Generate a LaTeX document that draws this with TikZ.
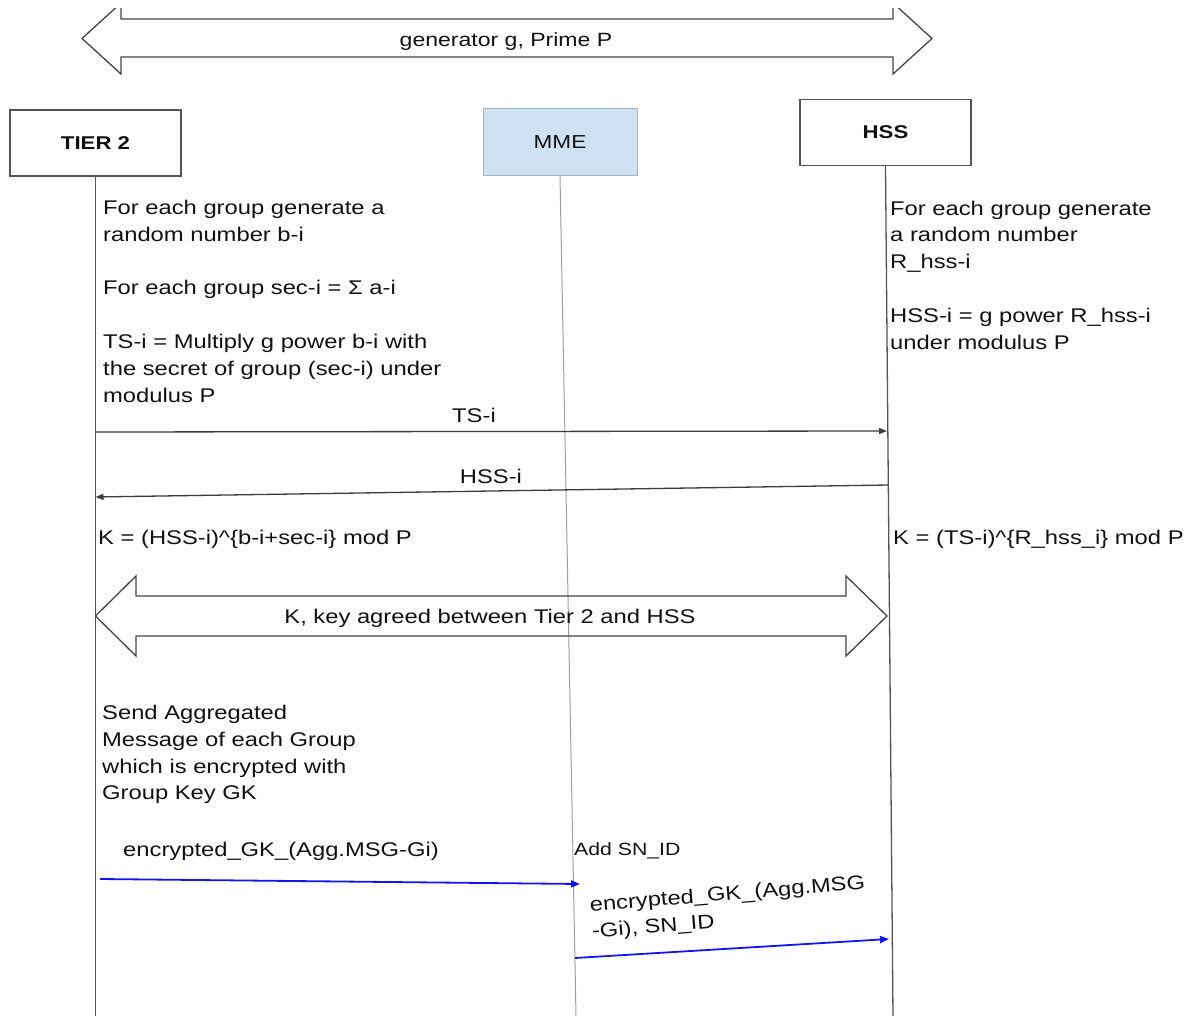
\documentclass[tikz,border=0pt]{standalone}
\usepackage{fontspec}
\setmainfont{Liberation Sans}[FakeStretch=1.2]
\usetikzlibrary{arrows.meta,calc}
\definecolor{ln}{HTML}{555555}
\definecolor{mmefill}{HTML}{CFE2F3}
\definecolor{mmeedge}{HTML}{A9B4BF}
\definecolor{txt}{HTML}{111111}
\definecolor{msgblue}{HTML}{1414F0}
\begin{document}
\begin{tikzpicture}[x=1pt,y=-1pt,
  every node/.style={text=txt,font=\fontsize{19.8}{26.8}\selectfont},
  actor/.style={draw=ln,line width=1.5pt,fill=white,minimum width=171pt,minimum height=66pt,inner sep=0pt,font=\bfseries\fontsize{18.5}{22}\selectfont},
  mmebox/.style={draw=mmeedge,line width=1pt,fill=mmefill,minimum width=154pt,minimum height=67pt,inner sep=0pt,font=\fontsize{18.8}{22}\selectfont},
  lifeline/.style={draw=ln,line width=1.3pt},
  mmeline/.style={draw=gray!75,line width=1pt},
  dblarrow/.style={draw=ln!80!black,line width=1.3pt,line join=miter},
  note/.style={anchor=north west,align=left,inner sep=0pt},
  msglabel/.style={anchor=base,inner sep=0pt},
  blackmsg/.style={draw=ln!70!black,line width=1.3pt,-{Triangle[length=8pt,width=6pt]}},
  bluemsg/.style={draw=msgblue,line width=1.8pt,-{Triangle[length=9pt,width=7pt]}}
]
\useasboundingbox (0,0) rectangle (1195,1016);

% actors
\node[actor] (t2) at (95.5,143) {TIER 2};
\node[mmebox] (mme) at (560,142.5) {MME};
\node[actor] (hss) at (885.5,132.5) {HSS};

% lifeline ends
\coordinate (t2b) at (95.5,1016);
\coordinate (mmeb) at (576,1016);
\coordinate (hssb) at (893,1016);
\draw[lifeline] (t2.south) -- (t2b);
\draw[mmeline] (mme.south) -- (mmeb);
\draw[lifeline] (hss.south) -- (hssb);

% top double arrow
\begin{scope}
\clip (0,9) rectangle (1195,1016);
\draw[dblarrow] (82,38.5) -- (121,3) -- (121,19) -- (893,19) -- (893,3) -- (932,38.5)
  -- (893,74) -- (893,57) -- (121,57) -- (121,74) -- cycle;
\end{scope}
\node[msglabel,font=\fontsize{19.2}{24}\selectfont] (gen) at (506,47) {generator g, Prime P};

% notes
\node[note] (lnote) at (103,200) {For each group generate a\\random number b-i\\[26.8pt]For each group sec-i = Σ a-i\\[26.8pt]TS-i = Multiply g power b-i with\\the secret of group (sec-i) under\\modulus P};
\node[note] (rnote) at (890,200.5) {For each group generate\\a random number\\R\_hss-i\\[26.8pt]HSS-i = g power R\_hss-i\\under modulus P};

% TS-i and HSS-i
\coordinate (tsA) at (95.5,432);
\coordinate (tsB) at (887,431);
\draw[blackmsg] (tsA) -- (tsB);
\node[msglabel] (tslab) at (474,423) {TS-i};
\coordinate (hsA) at (888.5,485);
\coordinate (hsB) at (95.5,497);
\draw[blackmsg] (hsA) -- (hsB);
\node[msglabel] (hslab) at (491,483) {HSS-i};

% key computations
\node[anchor=base west,inner sep=0pt] (kleft) at (98,544.5) {K = (HSS-i)\textasciicircum\{b-i+sec-i\} mod P};
\node[anchor=base west,inner sep=0pt] (kright) at (893,544.5) {K = (TS-i)\textasciicircum\{R\_hss\_i\} mod P};

% key agreed double arrow
\draw[dblarrow] (95.5,616) -- (136,576) -- (136,596) -- (846,596) -- (846,576) -- (887,616)
  -- (846,656) -- (846,636) -- (136,636) -- (136,656) -- cycle;
\node[msglabel] (klab) at (490,623) {K, key agreed between Tier 2 and HSS};

% aggregated message
\node[note] (snote) at (102,705) {Send Aggregated\\Message of each Group\\which is encrypted with\\Group Key GK};
\node[anchor=base west,inner sep=0pt] (enc1) at (123,856) {encrypted\_GK\_(Agg.MSG-Gi)};
\node[anchor=base west,inner sep=0pt,font=\fontsize{17.7}{22}\selectfont] (addsn) at (574,855) {Add SN\_ID};

\coordinate (b1A) at (100,879);
\coordinate (b1B) at (580,884);
\draw[bluemsg] (b1A) -- (b1B);

\node[note,rotate=4.7,font=\fontsize{19.8}{20.5}\selectfont] (enc2) at (589,897) {encrypted\_GK\_(Agg.MSG\\[6pt]-Gi), SN\_ID};
\coordinate (b2A) at (575,958);
\coordinate (b2B) at (889,939);
\draw[bluemsg] (b2A) -- (b2B);
\end{tikzpicture}
\end{document}
